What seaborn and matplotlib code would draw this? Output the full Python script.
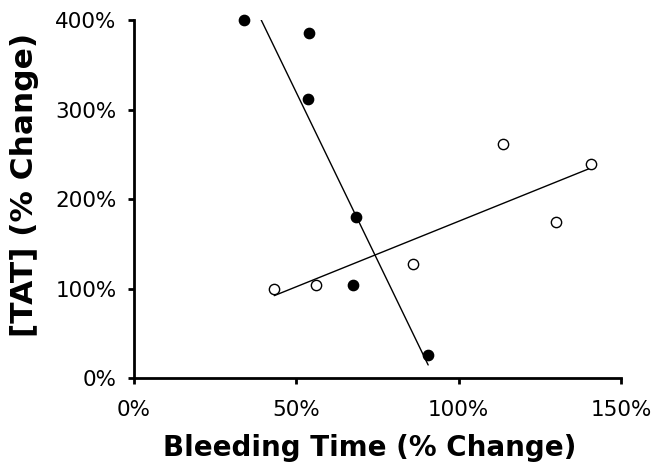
import seaborn as sns
import matplotlib.pyplot as plt
import pandas as pd
from matplotlib.ticker import PercentFormatter

# bleeding time vs TAT, both as % change
filled_bt = [34.0, 54.0, 53.5, 68.3, 67.3, 90.6]
filled_tat = [400.0, 385.0, 312.0, 180.0, 103.7, 25.4]
open_bt = [43.2, 56.0, 86.0, 113.8, 129.9, 140.7]
open_tat = [100.0, 104.0, 126.9, 262.0, 174.6, 238.8]

x_ticks = [0, 50, 100, 150]
y_ticks = [0, 100, 200, 300, 400]

filled = pd.DataFrame({"bt": filled_bt, "tat": filled_tat})
hollow = pd.DataFrame({"bt": open_bt, "tat": open_tat})

sns.set_style("ticks")
plt.rcParams['font.family'] = ['DejaVu Sans']

fig = plt.figure(figsize=(6.63, 4.73), dpi=100)
ax = fig.add_axes([0.2021, 0.2008, 0.7346, 0.7569])

sns.regplot(x="bt", y="tat", data=filled, ci=None, ax=ax,
            scatter_kws={"s": 55, "color": "black", "edgecolors": "black", "alpha": 1,
                         "linewidths": 1, "clip_on": False, "zorder": 3},
            line_kws={"color": "black", "lw": 1.0})
sns.regplot(x="bt", y="tat", data=hollow, ci=None, ax=ax,
            scatter_kws={"s": 55, "facecolors": "white", "edgecolors": "black", "alpha": 1,
                         "linewidths": 1.0, "clip_on": False, "zorder": 3},
            line_kws={"color": "black", "lw": 1.0})

ax.set_xlim(0, 150)
ax.set_ylim(0, 400)
ax.set_xticks(x_ticks)
ax.set_yticks(y_ticks)
ax.xaxis.set_major_formatter(PercentFormatter(decimals=0))
ax.yaxis.set_major_formatter(PercentFormatter(decimals=0))
ax.tick_params(axis="both", direction="out", length=4.5, width=2,
               labelsize=15.5, color="black", labelcolor="black")
ax.tick_params(axis="x", pad=11)
ax.tick_params(axis="y", pad=8)
for side in ["left", "bottom"]:
    ax.spines[side].set_linewidth(2)
    ax.spines[side].set_color("black")
sns.despine(ax=ax)

ax.set_xlabel("Bleeding Time (% Change)", fontsize=20, fontweight="bold", color="black")
ax.set_ylabel("[TAT] (% Change)", fontsize=22.5, fontweight="bold", color="black")
ax.xaxis.set_label_coords(0.4836, -0.156)
ax.yaxis.set_label_coords(-0.195, 0.539)

fig.savefig("out.png", dpi=100)
